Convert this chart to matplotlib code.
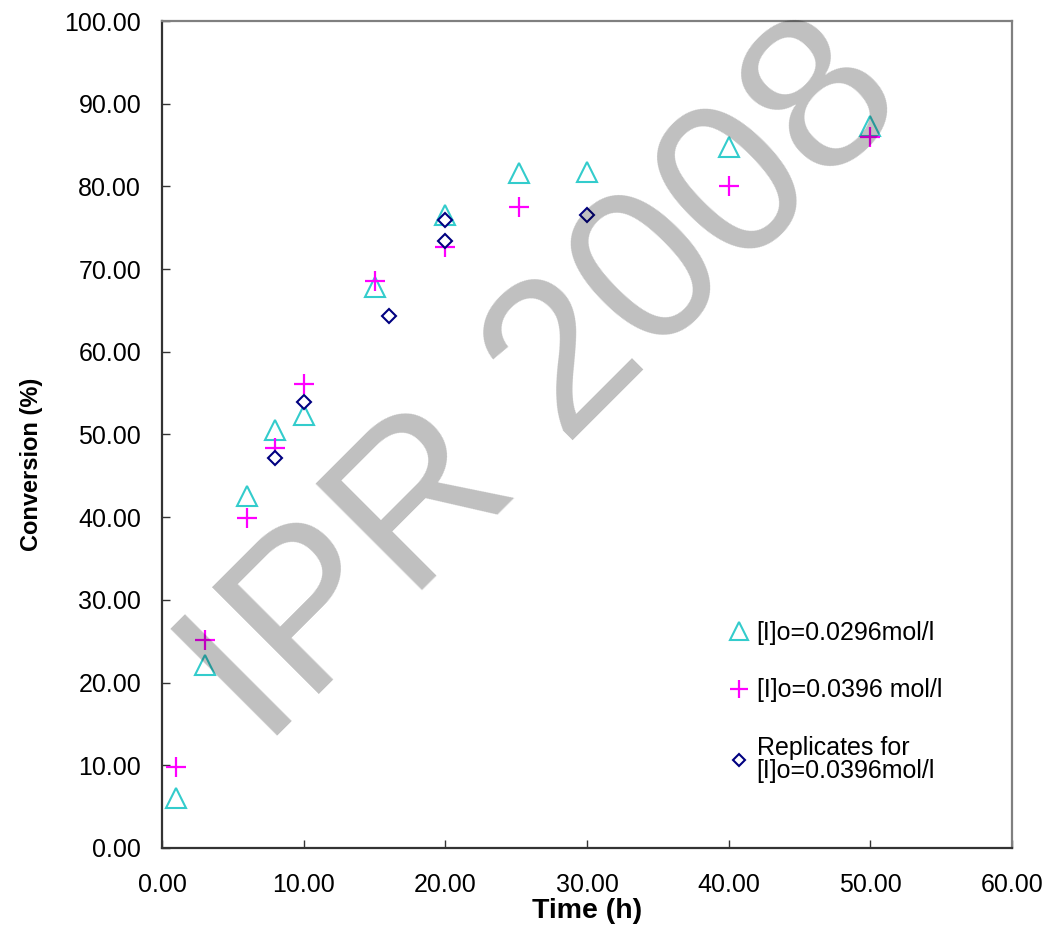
import matplotlib
matplotlib.use("Agg")
import matplotlib.pyplot as plt
from matplotlib.ticker import FormatStrFormatter

plt.rcParams["font.family"] = ["Liberation Sans", "DejaVu Sans"]

# [I]o = 0.0296 mol/l
time_a = [1, 3, 6, 8, 10, 15, 20, 25.2, 30, 40, 50]
conv_a = [6.0, 22.1, 42.6, 50.5, 52.3, 67.8, 76.5, 81.6, 81.8, 84.8, 87.3]

# [I]o = 0.0396 mol/l
time_b = [1, 3, 6, 8, 10, 15, 20, 25.2, 40, 50]
conv_b = [9.8, 25.1, 39.9, 48.4, 56.1, 68.6, 72.7, 77.5, 80.1, 86.0]

# replicate runs at 0.0396 mol/l
time_r = [8, 10, 16, 20, 20, 30]
conv_r = [47.1, 53.9, 64.3, 75.9, 73.4, 76.5]

label_a = "[I]o=0.0296mol/l"
label_b = "[I]o=0.0396 mol/l"
label_r = "Replicates for\n[I]o=0.0396mol/l"

fig = plt.figure(figsize=(10.48, 9.31), dpi=100)
ax = fig.add_axes([0.1546, 0.0892, 0.811, 0.8882])

ax.plot(time_a, conv_a, linestyle="none", marker="^", ms=15, mfc="none",
        mec="#33CCCC", mew=1.5, label=label_a, zorder=3)
ax.plot(time_b, conv_b, linestyle="none", marker="+", ms=15,
        mec="#FF00FF", mew=1.6, label=label_b, zorder=4)
ax.plot(time_r, conv_r, linestyle="none", marker="D", ms=7, mfc="white",
        mec="#000080", mew=1.5, label=label_r, zorder=5)

# watermark across the plot
ax.text(7.2, 11.85, "IPR 2008", fontsize=158, color="black", alpha=0.25,
        rotation=45, rotation_mode="anchor", ha="left", va="baseline",
        zorder=6, clip_on=False)

ax.set_xlim(0, 60)
ax.set_ylim(0, 100)
ax.set_xticks(range(0, 61, 10))
ax.set_yticks(range(0, 101, 10))
ax.xaxis.set_major_formatter(FormatStrFormatter("%.2f"))
ax.yaxis.set_major_formatter(FormatStrFormatter("%.2f"))
ax.tick_params(axis="both", direction="in", length=6, width=1,
               labelsize=18, colors="#333333", labelcolor="black")
ax.tick_params(axis="y", pad=15)
ax.tick_params(axis="x", pad=18)

for side in ["left", "bottom"]:
    ax.spines[side].set_color("#333333")
    ax.spines[side].set_linewidth(1.6)
for side in ["top", "right"]:
    ax.spines[side].set_color("#808080")
    ax.spines[side].set_linewidth(1.6)

ax.set_xlabel("Time (h)", fontsize=20.5, fontweight="bold")
ax.set_ylabel("Conversion (%)", fontsize=17, fontweight="bold")
ax.xaxis.set_label_coords(0.5, -0.061)
ax.yaxis.set_label_coords(-0.14, 0.464)

leg = ax.legend(loc="upper left", bbox_to_anchor=(0.651, 0.29),
                frameon=False, fontsize=18, borderpad=0, labelspacing=1.35,
                handlelength=0.9, handletextpad=0.25, markerscale=0.85)
for t in leg.get_texts():
    t.set_linespacing(0.95)

fig.savefig("out.png", dpi=100)
